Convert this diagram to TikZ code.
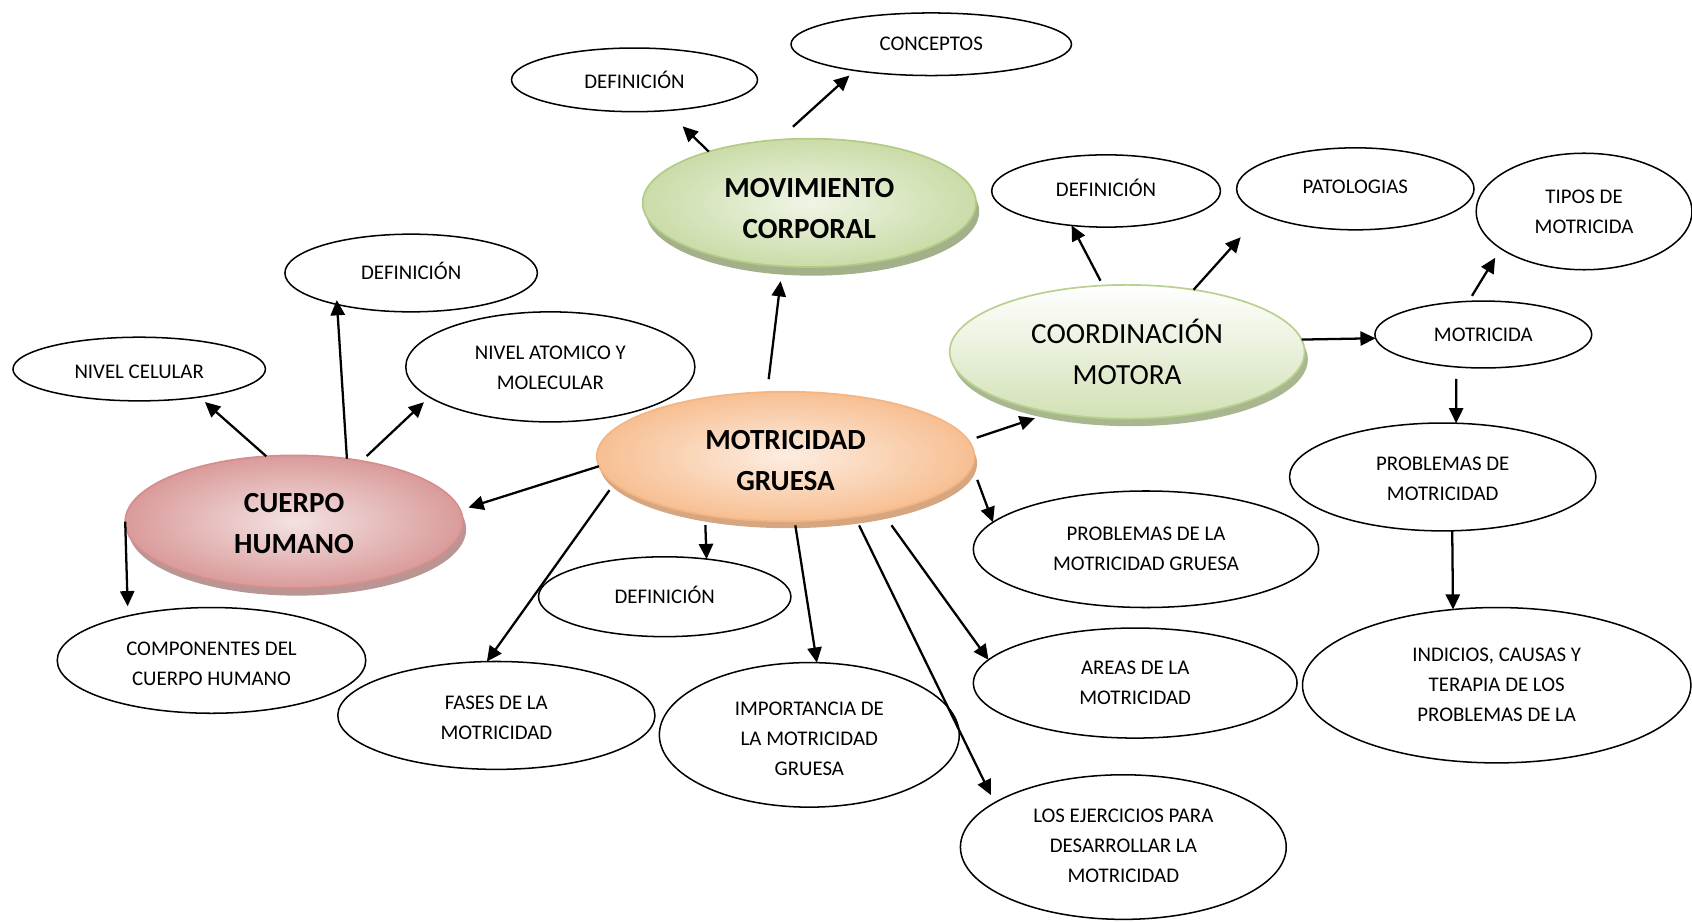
\documentclass[tikz,border=0pt]{standalone}
\usepackage{fontspec}
\setmainfont{Carlito}
\usetikzlibrary{shapes.geometric,arrows.meta,shadows}
\definecolor{mcin}{HTML}{EFF5E5}
\definecolor{mcout}{HTML}{CADCA8}
\definecolor{mcborder}{HTML}{B3CC85}
\definecolor{mcshadow}{HTML}{A3B18B}
\definecolor{cmbot}{HTML}{D2E1B5}
\definecolor{cmborder}{HTML}{B9D18F}
\definecolor{cmshadow}{HTML}{A9B791}
\definecolor{mgin}{HTML}{FDEDE1}
\definecolor{mgout}{HTML}{F7BF92}
\definecolor{mgborder}{HTML}{F5B583}
\definecolor{mgshadow}{HTML}{D6A680}
\definecolor{chin}{HTML}{F4E2E2}
\definecolor{chout}{HTML}{D99B9A}
\definecolor{chborder}{HTML}{D68E8C}
\definecolor{chshadow}{HTML}{B99594}
% \topht{h}: first-line strut of height h (moves text down); \botdp{d}: last-line depth d (moves text up)
\newcommand{\topht}[1]{\rule{0pt}{#1}}
\newcommand{\botdp}[1]{\rule[-#1]{0pt}{0pt}}
\begin{document}
\begin{tikzpicture}[x=0.02cm,y=-0.02cm,
  ov/.style={ellipse, draw=black, line width=0.8pt, fill=white, inner sep=0pt, outer sep=0pt,
             align=center, font=\fontsize{11}{15.8}\selectfont},
  big/.style={ellipse, inner sep=0pt, outer sep=0pt, align=center, line width=0.9pt},
  bigbold/.style={big, font=\fontsize{15.4}{21.6}\selectfont\bfseries},
  bigreg/.style={big, font=\fontsize{15.4}{21.6}\selectfont},
  mcsty/.style={draw=mcborder, inner color=mcin, outer color=mcout,
     general shadow={fill=mcshadow, shadow xshift=0.06cm, shadow yshift=-0.16cm}},
  cmsty/.style={draw=cmborder, top color=white, bottom color=cmbot,
     general shadow={fill=cmshadow, shadow xshift=0.06cm, shadow yshift=-0.14cm}},
  mgsty/.style={draw=mgborder, inner color=mgin, outer color=mgout,
     general shadow={fill=mgshadow, shadow xshift=0.05cm, shadow yshift=-0.13cm}},
  chsty/.style={draw=chborder, inner color=chin, outer color=chout,
     general shadow={fill=chshadow, shadow xshift=0.06cm, shadow yshift=-0.14cm}},
  arr/.style={line width=1.2pt, -{Triangle[length=8pt,width=7.5pt]}}
]
\useasboundingbox (0,0) rectangle (1568,854);

% central and coloured nodes
\node[bigbold, mcsty, minimum width=6.18cm, minimum height=2.38cm] (mc) at (750,188)
  {\topht{16.5pt}MOVIMIENTO\\CORPORAL};
\node[bigreg, cmsty, minimum width=6.58cm, minimum height=2.48cm] (cm) at (1044.5,326)
  {COORDINACIÓN\\MOTORA};
\node[bigbold, mgsty, minimum width=7.0cm, minimum height=2.4cm] (mg) at (728,423)
  {\topht{14.3pt}MOTRICIDAD\\GRUESA};
\node[bigbold, chsty, minimum width=6.26cm, minimum height=2.46cm] (ch) at (272.5,483.5)
  {\topht{12pt}CUERPO\\HUMANO};

% white ellipses
\node[ov, minimum width=5.2cm, minimum height=1.16cm] (conc) at (863,41) {CONCEPTOS};
\node[ov, minimum width=4.56cm, minimum height=1.18cm] (def1) at (588,74) {DEFINICIÓN};
\node[ov, minimum width=4.24cm, minimum height=1.34cm] (def2) at (1025,177) {DEFINICIÓN\botdp{3.4pt}};
\node[ov, minimum width=4.4cm, minimum height=1.52cm] (pat) at (1256,175) {PATOLOGIAS\botdp{2.3pt}};
\node[ov, minimum width=4.0cm, minimum height=2.16cm] (tipos) at (1468,196) {TIPOS DE\\MOTRICIDA};
\node[ov, minimum width=4.68cm, minimum height=1.44cm] (def3) at (381,253) {DEFINICIÓN\botdp{2.3pt}};
\node[ov, minimum width=4.68cm, minimum height=1.18cm] (cel) at (129,342) {\topht{10.4pt}NIVEL CELULAR};
\node[ov, minimum width=5.36cm, minimum height=2.04cm] (atom) at (510,340) {\topht{8.6pt}NIVEL ATOMICO Y\\MOLECULAR};
\node[ov, minimum width=4.02cm, minimum height=1.24cm] (mot) at (1374.6,310) {MOTRICIDA};
\node[ov, minimum width=5.68cm, minimum height=2.0cm] (pm) at (1337,442) {\topht{9.3pt}PROBLEMAS DE\\MOTRICIDAD};
\node[ov, minimum width=6.4cm, minimum height=2.16cm] (pmg) at (1062,509) {PROBLEMAS DE LA\\MOTRICIDAD GRUESA};
\node[ov, minimum width=4.68cm, minimum height=1.48cm] (def4) at (616,553) {DEFINICIÓN\botdp{2.3pt}};
\node[ov, minimum width=5.72cm, minimum height=1.96cm] (comp) at (196,612) {\topht{11pt}COMPONENTES DEL\\CUERPO HUMANO};
\node[ov, minimum width=5.88cm, minimum height=2.0cm] (fases) at (460,663) {\topht{9.3pt}FASES DE LA\\MOTRICIDAD};
\node[ov, minimum width=5.56cm, minimum height=2.68cm] (imp) at (750,681) {\topht{11.6pt}IMPORTANCIA DE\\LA MOTRICIDAD\\GRUESA};
\node[ov, minimum width=6.0cm, minimum height=2.04cm] (areas) at (1052,633) {AREAS DE LA\\MOTRICIDAD};
\node[ov, minimum width=7.2cm, minimum height=2.88cm] (ind) at (1387,635) {INDICIOS, CAUSAS Y\\TERAPIA DE LOS\\PROBLEMAS DE LA};
\node[ov, minimum width=6.04cm, minimum height=2.68cm] (ejer) at (1041,785) {LOS EJERCICIOS PARA\\DESARROLLAR LA\\MOTRICIDAD\botdp{1.5pt}};

% connectors
\draw[arr, shorten >=0.42cm] (mc.153) -- (def1.-44);
\draw[arr, shorten <=0.36cm, shorten >=0.14cm] (mc.116.3) -- (conc.199.1);
\draw[arr, shorten <=0.24cm, shorten >=0.28cm] (mg.106.8) -- (mc.247.8);
\draw[arr, shorten <=0.1cm] (cm.110.4) -- (def2.225);
\draw[arr, shorten >=0.58cm] (cm.43.7) -- (pat.195.8);
\draw[arr] (cm.4.5) -- (mot.182);
\draw[arr, shorten <=0.12cm, shorten >=0.2cm] (mot.114.8) -- (tipos.204.4);
\draw[arr, shorten <=0.22cm] (mot.230) -- (pm.76);
\draw[arr] (pm.-80.4) -- (ind.120.7);
\draw[arr, shorten <=0.16cm, shorten >=0.34cm] (mg.5.4) -- (cm.219.9);
\draw[arr, shorten <=0.27cm] (mg.-3.7) -- (pmg.170.7);
\draw[arr, shorten >=0.16cm] (mg.183.8) -- (ch.4.8);
\draw[arr, shorten >=0.14cm] (ch.113.3) -- (cel.-25.2);
\draw[arr, shorten >=-0.08cm] (ch.50) -- (def3.203.5);
\draw[arr, shorten <=0.13cm, shorten >=0.14cm] (ch.42.1) -- (atom.194.5);
\draw[arr, shorten >=0.18cm] (ch.180) -- (comp.152.3);
\draw[arr, shorten <=0.19cm] (mg.216.1) -- (def4.42.6);
\draw[arr, shorten <=0.15cm] (mg.189.4) -- (fases.100.2);
\draw[arr, shorten <=0.08cm] (mg.-82.3) -- (imp.84.9);
\draw[arr, shorten <=0.18cm, shorten >=0.16cm] (mg.-41.6) -- (ejer.161.1);
\draw[arr, shorten <=0.3cm] (mg.-30.9) -- (areas.171.2);
\end{tikzpicture}
\end{document}
